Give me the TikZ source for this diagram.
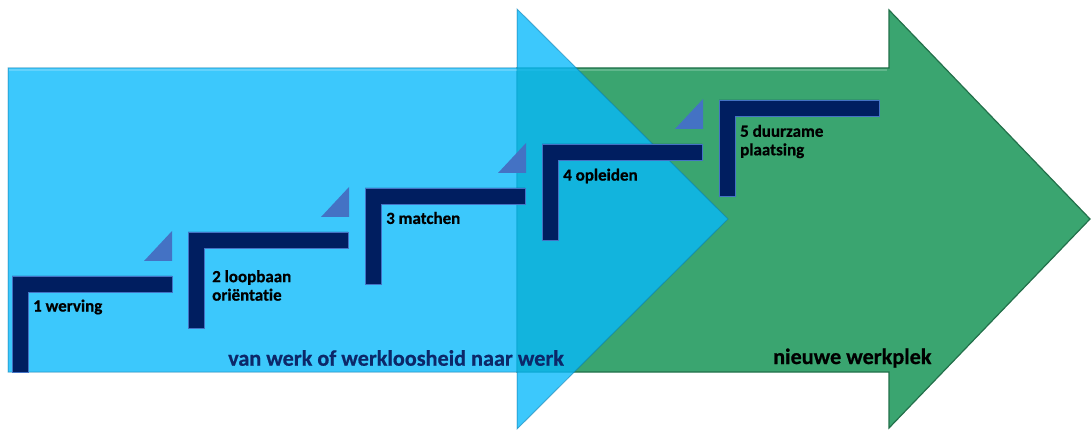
\documentclass[tikz,border=0pt]{standalone}
\usepackage{fontspec}
\setmainfont{Carlito}[BoldFont={Carlito Bold}, BoldFeatures={FakeBold=0.6}, Ligatures=NoCommon]
\definecolor{arrowgreen}{RGB}{58,165,112}
\definecolor{arrowgreenedge}{RGB}{34,112,74}
\definecolor{arrowblue}{RGB}{8,185,251}
\definecolor{arrowblueedge}{RGB}{10,120,170}
\definecolor{stairnavy}{RGB}{0,30,96}
\definecolor{stairedge}{RGB}{68,114,196}
\definecolor{titlenavy}{RGB}{12,40,105}
\begin{document}
\begin{tikzpicture}[x=1pt,y=-1pt,
  greenarrow/.style={fill=arrowgreen, draw=arrowgreenedge, line width=1.2pt, line join=miter},
  bluearrow/.style={fill=arrowblue, fill opacity=0.79, draw=arrowblueedge, draw opacity=0.5, line width=1pt, line join=miter},
  sheen/.style={white, opacity=0.2, line width=2pt},
  stairbar/.style={fill=stairnavy, draw=stairedge, line width=0.8pt},
  stairtip/.style={fill=stairedge},
  steplabel/.style={anchor=west, align=left, inner sep=0pt, font=\fontsize{17}{18.5}\selectfont\bfseries, text=black},
  pathlabel/.style={anchor=west, inner sep=0pt, font=\fontsize{22.2}{25}\selectfont\bfseries},
  pics/stair/.style={code={
    \draw[stairbar] (0,0) -- (160,0) -- (160,16) -- (16,16) -- (16,96) -- (0,96) -- cycle;
    \fill[stairtip] (-44,29) -- (-16,29) -- (-16,-1) -- cycle;
  }}
]
\useasboundingbox (0,0) rectangle (1092,430);

% green arrow: new workplace
\draw[greenarrow] (517,68) -- (889,68) -- (889,10) -- (1090,219) -- (889,428) -- (889,372) -- (517,372) -- cycle;
\draw[sheen] (517,70.5) -- (887,70.5);

% blue arrow: from (un)employment to work, translucent over the green one
\draw[bluearrow] (8,68) -- (517,68) -- (517,9) -- (728,219) -- (517,429) -- (517,372) -- (8,372) -- cycle;
\draw[sheen] (9,70.5) -- (517,70.5);

% five stairs rising to the right
\pic at (12,276) {stair};
\pic at (188,232) {stair};
\pic at (365,188) {stair};
\pic at (542,144) {stair};
\pic at (719,100) {stair};

\node[steplabel] (s1) at (33,307) {1 werving};
\node[steplabel] (s2) at (212,285.5) {2 loopbaan\\oriëntatie};
\node[steplabel] (s3) at (386,218) {3 matchen};
\node[steplabel] (s4) at (563,176) {4 opleiden};
\node[steplabel] (s5) at (740,141.5) {5 duurzame\\plaatsing};

\node[pathlabel, text=titlenavy] (from) at (228,358) {van werk of werkloosheid naar werk};
\node[pathlabel, text=black] (to) at (773,358) {nieuwe werkplek};
\end{tikzpicture}
\end{document}
